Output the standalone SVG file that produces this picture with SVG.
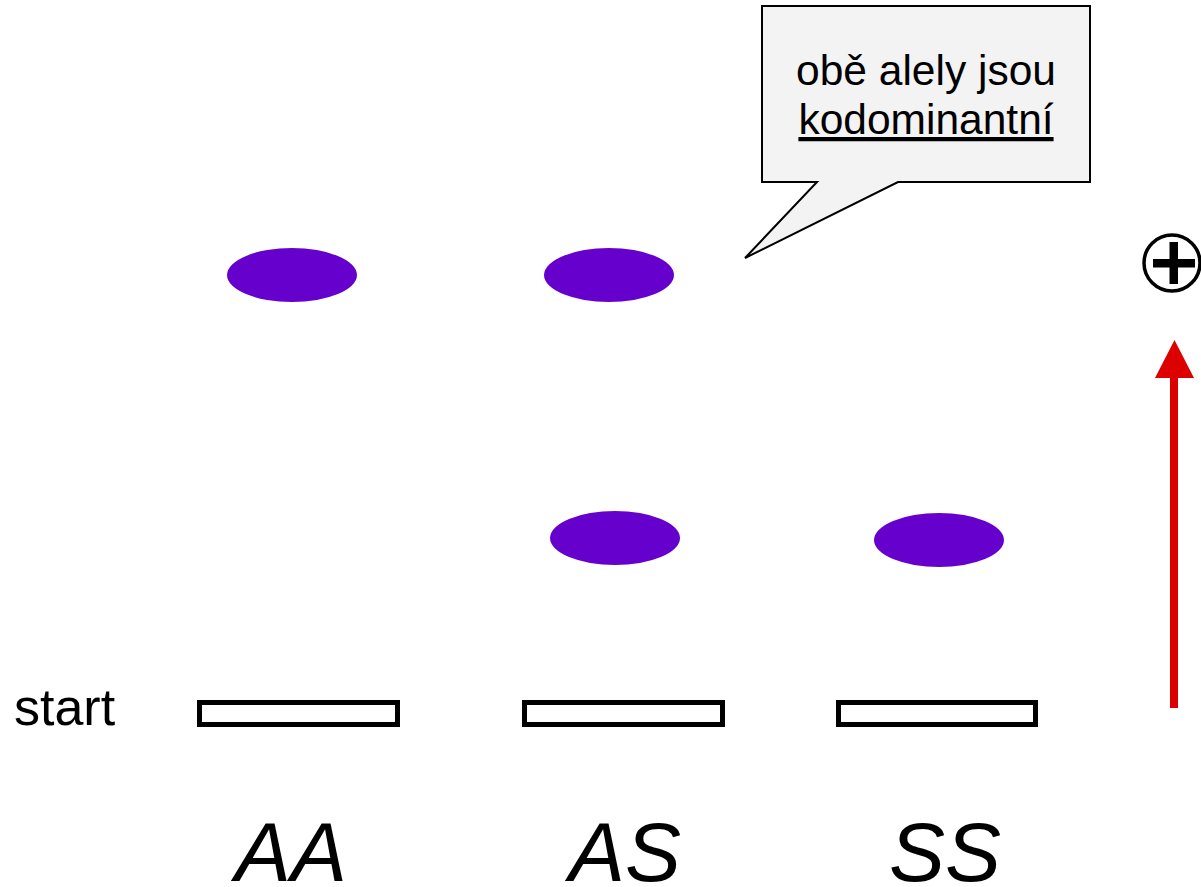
<svg xmlns="http://www.w3.org/2000/svg" width="1201" height="887" viewBox="0 0 1201 887">
<style>
.t{font-family:"Liberation Sans",Arial,sans-serif;fill:#000}
.band{fill:#6600cc}
.well{fill:#fff;stroke:#000;stroke-width:5}
.lbl{font-size:84px;font-style:italic;text-anchor:middle}
</style>
<rect width="1201" height="887" fill="#fff"/>
<g id="callout">
<path d="M762,6 H1090 V182 H898 L745,258 L817,182 H762 Z" fill="#f3f3f3" stroke="#000" stroke-width="2"/>
<text class="t" x="926" y="85" font-size="42.5" text-anchor="middle">obě alely jsou</text>
<text class="t" x="926" y="134" font-size="42.5" text-anchor="middle" text-decoration="underline">kodominantní</text>
</g>
<g id="band-AA-top"><ellipse class="band" cx="292" cy="275" rx="65" ry="27"/></g>
<g id="band-AS-top"><ellipse class="band" cx="609" cy="275" rx="65" ry="27"/></g>
<g id="band-AS-bottom"><ellipse class="band" cx="615" cy="538" rx="65" ry="27"/></g>
<g id="band-SS-bottom"><ellipse class="band" cx="939" cy="540" rx="65" ry="27"/></g>
<g id="start-label"><text class="t" x="14" y="725" font-size="52">start</text></g>
<g id="well-AA"><rect class="well" x="199.5" y="702.5" width="198" height="22"/></g>
<g id="well-AS"><rect class="well" x="524.5" y="702.5" width="198" height="22"/></g>
<g id="well-SS"><rect class="well" x="838.5" y="702.5" width="197" height="22"/></g>
<g id="label-AA"><text class="t lbl" x="291" y="881">AA</text></g>
<g id="label-AS"><text class="t lbl" x="625" y="881">AS</text></g>
<g id="label-SS"><text class="t lbl" x="945" y="881">SS</text></g>
<g id="anode">
<circle cx="1172" cy="263" r="28" fill="#fff" stroke="#000" stroke-width="3.5"/>
<rect x="1153" y="259" width="42" height="8.5" fill="#000"/>
<rect x="1169.5" y="242" width="8.5" height="42" fill="#000"/>
</g>
<g id="connectors">
<line x1="1174" y1="708" x2="1174" y2="376" stroke="#dd0000" stroke-width="8"/>
<polygon points="1155,378 1194,378 1174.5,340" fill="#dd0000"/>
</g>
</svg>
